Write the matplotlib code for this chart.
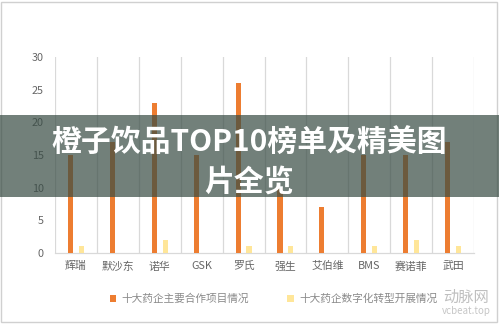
import matplotlib
matplotlib.use("Agg")
import matplotlib.pyplot as plt
import numpy as np
from matplotlib.patches import Rectangle, Patch

plt.rcParams['font.family'] = ['Noto Sans CJK SC', 'DejaVu Sans']

categories = ["辉瑞", "默沙东", "诺华", "GSK", "罗氏", "强生", "艾伯维", "BMS", "赛诺菲", "武田"]
series1_name = "十大药企主要合作项目情况"
series2_name = "十大药企数字化转型开展情况"
series1 = [15, 17, 23, 15, 26, 10, 7, 15, 15, 17]
series2 = [1, 0, 2, 0, 1, 1, 0, 1, 2, 1]
yticks = [0, 5, 10, 15, 20, 25, 30]
title_line1 = "橙子饮品TOP10榜单及精美图"
title_line2 = "片全览"

c1 = "#ED7D31"
c2 = "#FFE699"

fig = plt.figure(figsize=(4.99, 3.24), dpi=100)
fig.patch.set_facecolor("white")
ax = fig.add_axes([55/499, 1-253/324, (474-55)/499, (253-57)/324])

x = np.arange(len(categories))
w = 0.12
ax.bar(x - 0.13, series1, width=w, color=c1, zorder=3)
ax.bar(x + 0.13, series2, width=w, color=c2, zorder=3)

ax.set_xlim(-0.5, len(categories) - 0.5)
ax.set_ylim(0, 30)
ax.set_yticks(yticks)
ax.set_xticks(x)
ax.set_xticklabels(categories)
ax.set_xticks(np.arange(-0.5, len(categories)), minor=True)
ax.grid(False)
ax.grid(True, which="minor", axis="x", color="#d9d9d9", linewidth=0.9, zorder=0)
for s in ["top", "right", "left"]:
    ax.spines[s].set_visible(False)
ax.spines["bottom"].set_color("#d9d9d9")
ax.spines["bottom"].set_linewidth(0.9)
ax.tick_params(axis="both", which="both", length=0)
ax.tick_params(axis="x", labelsize=7.8, labelcolor="#666666", pad=6)
ax.tick_params(axis="y", labelsize=7.8, labelcolor="#666666", pad=8)

# legend
handles = [Patch(facecolor=c1, label=series1_name), Patch(facecolor=c2, label=series2_name)]
fig.legend(handles=handles, loc="center", bbox_to_anchor=(0.548, 1-299/324), ncol=2,
           frameon=False, fontsize=7.7, labelcolor="#8a8a8a", handlelength=0.6, handleheight=0.6,
           handletextpad=0.5, columnspacing=3.6)

# watermark
fig.text(466/499, 1-297/324, "动脉网", fontsize=11, color="#b0b0b0", ha="center", va="center", alpha=0.8)
fig.text(466/499, 1-311/324, "vcbeat.top", fontsize=7, color="#b8b8b8", ha="center", va="center", alpha=0.8)

# outer border
fig.patches.append(Rectangle((0.003, 0.006), 0.992, 0.989, transform=fig.transFigure,
                             fill=False, edgecolor="#d0d0d0", linewidth=1.0, zorder=5))

# banner overlay
fig.patches.append(Rectangle((0, 1-197/324), 1, 82/324, transform=fig.transFigure,
                             facecolor=(56/255, 76/255, 68/255), alpha=0.71, edgecolor="none", zorder=10))
fig.text(0.5, 1-143/324, title_line1, fontsize=21.5, fontweight="heavy", color="white",
         ha="center", va="center", zorder=11)
fig.text(0.5, 1-182/324, title_line2, fontsize=21.5, fontweight="heavy", color="white",
         ha="center", va="center", zorder=11)

fig.savefig("out.png", dpi=100, facecolor="white")
